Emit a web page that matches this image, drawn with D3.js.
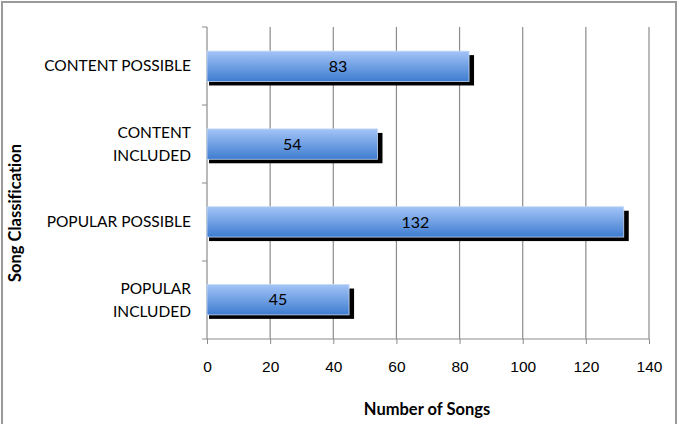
<!DOCTYPE html>
<html>
<head>
<meta charset="utf-8">
<script src="https://cdn.jsdelivr.net/npm/d3@7"></script>
<style>
  body { margin: 0; background: #fff; }
  svg { display: block; font-family: Lato, "Open Sans", sans-serif; font-variant-ligatures: none; font-feature-settings: "liga" 0; }
  .tick text { font-size: 15.5px; fill: #000; }
  .cat-label { font-size: 15.5px; fill: #000; }
  .axis-title { font-size: 16.5px; font-weight: bold; fill: #000; }
  .bar-label { font-size: 16px; fill: #000; }
</style>
</head>
<body>
<svg id="chart" width="678" height="424"></svg>
<script>
const categories = ["CONTENT POSSIBLE", "CONTENT INCLUDED", "POPULAR POSSIBLE", "POPULAR INCLUDED"];
const labelLines = [["CONTENT POSSIBLE"], ["CONTENT", "INCLUDED"], ["POPULAR POSSIBLE"], ["POPULAR", "INCLUDED"]];
const values = [83, 54, 132, 45];
const xTicks = [0, 20, 40, 60, 80, 100, 120, 140];

const svg = d3.select("#chart");
const margin = { top: 27, right: 29, bottom: 85, left: 207 };
const width = 678 - margin.left - margin.right;
const height = 424 - margin.top - margin.bottom;

// outer frame
svg.append("rect")
  .attr("x", 2).attr("y", 2)
  .attr("width", 674).attr("height", 424)
  .attr("fill", "none")
  .attr("stroke", "#9a9a9a")
  .attr("stroke-width", 2);

const defs = svg.append("defs");
const grad = defs.append("linearGradient")
  .attr("id", "barGrad")
  .attr("x1", 0).attr("y1", 0).attr("x2", 0).attr("y2", 1);
grad.append("stop").attr("offset", "0%").attr("stop-color", "#a3c4f7");
grad.append("stop").attr("offset", "100%").attr("stop-color", "#3e7cd0");

const g = svg.append("g").attr("transform", `translate(${margin.left},${margin.top})`);

const x = d3.scaleLinear().domain([0, 140]).range([0, width]);
const y = d3.scaleBand().domain(categories).range([0, height]).paddingInner(0.61).paddingOuter(0.31);
const yb = d3.scaleBand().domain(categories).range([0, height]);

// vertical grid lines
g.append("g")
  .selectAll("line")
  .data(xTicks.slice(1))
  .join("line")
  .attr("x1", (d) => x(d)).attr("x2", (d) => x(d))
  .attr("y1", 0).attr("y2", height)
  .attr("stroke", "#8c8c8c")
  .attr("stroke-width", 1.2);

// x axis
g.append("g")
  .attr("transform", `translate(0,${height})`)
  .call(d3.axisBottom(x).tickValues(xTicks).tickSize(5).tickPadding(17))
  .call((sel) => sel.select(".domain").attr("stroke", "#8c8c8c").attr("d", `M0,0H${width}`))
  .call((sel) => sel.selectAll(".tick line").attr("stroke", "#8c8c8c"));

// y axis line + ticks at band boundaries
g.append("line")
  .attr("x1", 0).attr("x2", 0).attr("y1", 0).attr("y2", height)
  .attr("stroke", "#8c8c8c").attr("stroke-width", 1.2);
g.append("g")
  .selectAll("line")
  .data(categories.concat(["end"]))
  .join("line")
  .attr("x1", -5).attr("x2", 0)
  .attr("y1", (d, i) => (i < categories.length ? yb(d) : height))
  .attr("y2", (d, i) => (i < categories.length ? yb(d) : height))
  .attr("stroke", "#8c8c8c");

// category labels
labelLines.forEach((lines, i) => {
  const cy = yb(categories[i]) + yb.bandwidth() / 2;
  const t = g.append("text")
    .attr("class", "cat-label")
    .attr("text-anchor", "end")
    .attr("y", cy - ((lines.length - 1) * 23) / 2);
  lines.forEach((ln, j) => {
    t.append("tspan")
      .attr("x", -16)
      .attr("dy", j === 0 ? "0.35em" : 23)
      .text(ln);
  });
});

// shadows
g.append("g")
  .selectAll("rect")
  .data(values)
  .join("rect")
  .attr("x", 2)
  .attr("y", (d, i) => y(categories[i]) + 4)
  .attr("width", (d) => x(d) + 3)
  .attr("height", y.bandwidth())
  .attr("fill", "#000");

// bars
g.append("g")
  .selectAll("rect")
  .data(values)
  .join("rect")
  .attr("x", 0)
  .attr("y", (d, i) => y(categories[i]))
  .attr("width", (d) => x(d))
  .attr("height", y.bandwidth())
  .attr("fill", "url(#barGrad)")
  .attr("stroke", "#c5d9f5")
  .attr("stroke-width", 0.8);

// value labels
g.append("g")
  .selectAll("text")
  .data(values)
  .join("text")
  .attr("class", "bar-label")
  .attr("x", (d) => x(d) / 2)
  .attr("y", (d, i) => y(categories[i]) + y.bandwidth() / 2)
  .attr("dy", "0.35em")
  .attr("text-anchor", "middle")
  .text((d) => d);

// axis titles
svg.append("text")
  .attr("class", "axis-title")
  .attr("x", margin.left + width / 2 - 1)
  .attr("y", 415)
  .attr("text-anchor", "middle")
  .text("Number of Songs");

svg.append("text")
  .attr("class", "axis-title")
  .attr("transform", `translate(21,213) rotate(-90)`)
  .attr("text-anchor", "middle")
  .text("Song Classification");
</script>
</body>
</html>
